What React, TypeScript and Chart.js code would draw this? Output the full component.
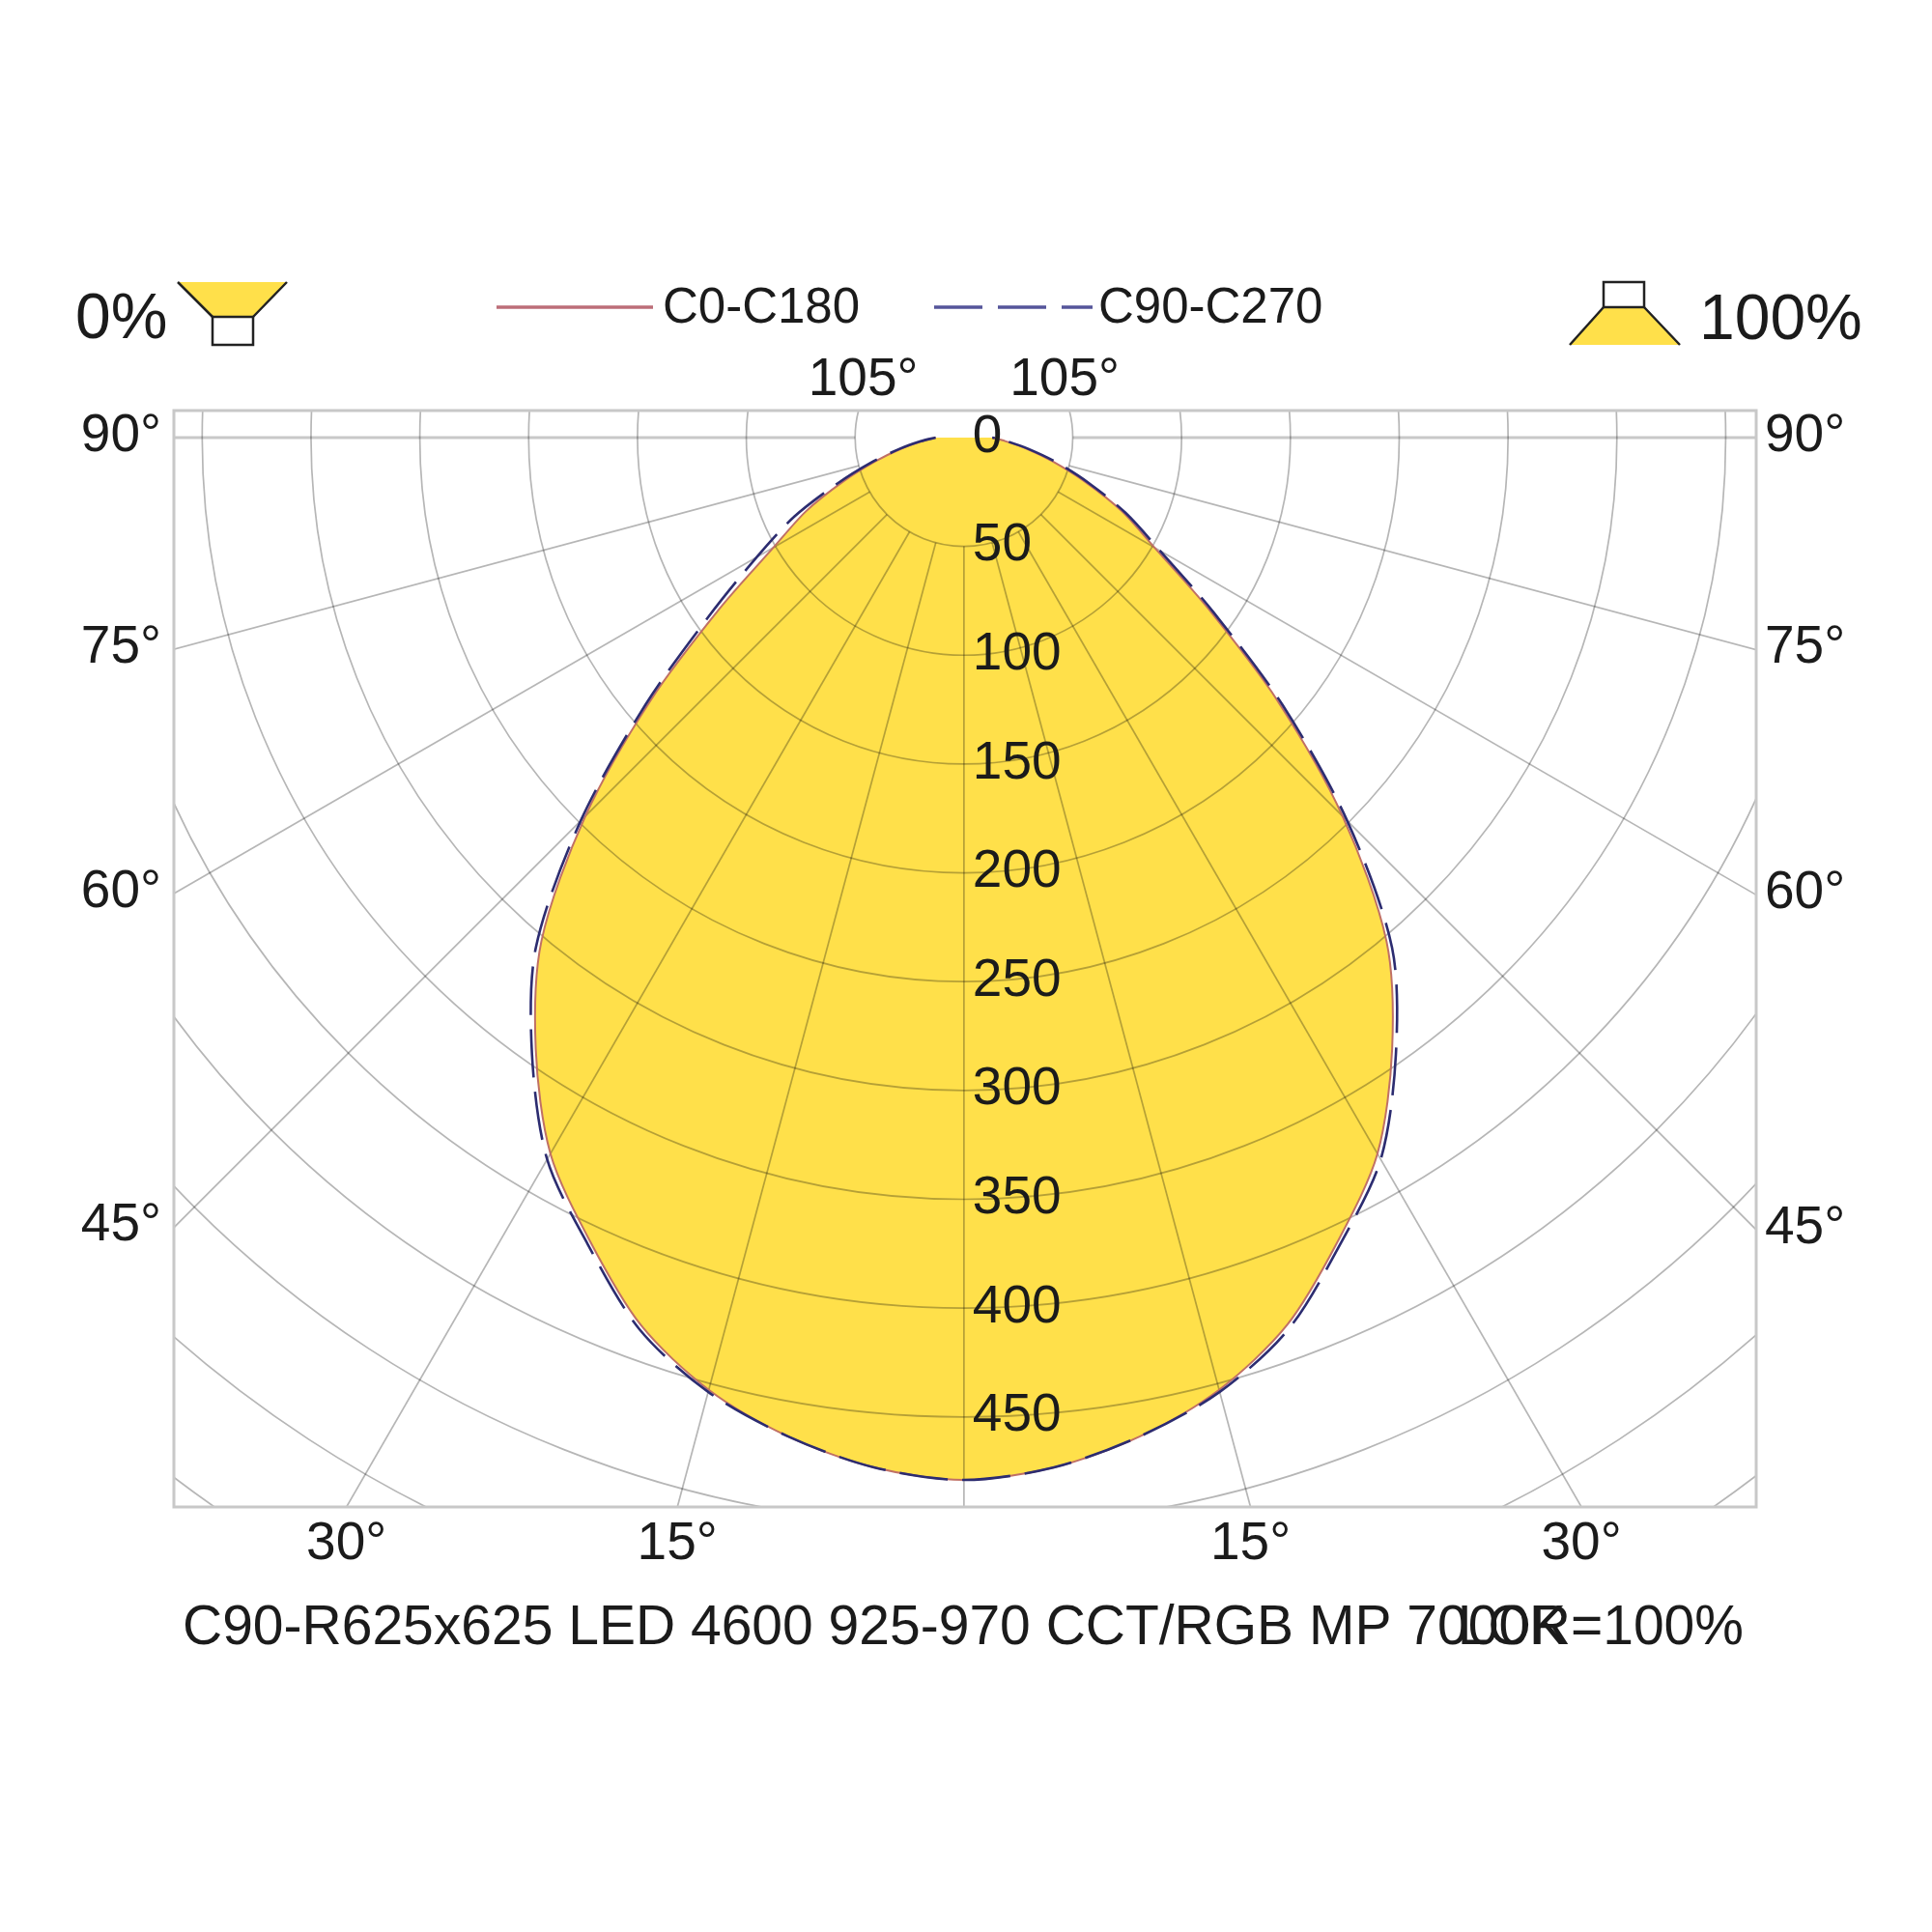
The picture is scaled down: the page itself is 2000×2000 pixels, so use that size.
import React, { useEffect, useRef } from "react";
import { Chart, registerables } from "chart.js";

Chart.register(...registerables);

// ---- data (gamma angles from nadir, degrees) ----
const ANGLES = [0, 5, 10, 15, 20, 25, 30, 35, 40, 45, 50, 55, 60, 65, 70, 75, 80, 85, 90];
const C0 = [479, 475, 466, 453, 434, 407, 380, 343, 302, 246, 188, 137, 101, 80, 59, 42, 29, 19, 13];
const C180 = [479, 475, 466, 453, 434, 407, 380, 343, 302, 246, 188, 137, 101, 80, 59, 42, 29, 19, 13];
const C90 = [479, 475, 466, 454, 436, 409, 383, 346, 306, 249, 191, 140, 104, 82, 61, 44, 30, 20, 13];
const C270 = [479, 475, 466, 454, 436, 409, 383, 346, 306, 249, 191, 143, 110, 86, 62, 44, 30, 20, 13];

const RING_LABELS = [0, 50, 100, 150, 200, 250, 300, 350, 400, 450];
const GRID_RINGS = [50, 100, 150, 200, 250, 300, 350, 400, 450, 500, 550, 600, 650, 700];
const SPOKES = [-105, -90, -75, -60, -45, -30, -15, 0, 15, 30, 45, 60, 75, 90, 105];
const SIDE_ANGLE_LABELS = [90, 75, 60, 45];
const BOTTOM_ANGLE_LABELS = [30, 15];
const TOP_ANGLE_LABEL = 105;
const SERIES_NAMES = ["C0-C180", "C90-C270"];
const TITLE = "C90-R625x625 LED 4600 925-970 CCT/RGB MP 7000K";
const LOR_TEXT = "LOR=100%";
const DOWN_TEXT = "0%";
const UP_TEXT = "100%";

const X_MIN = -363;
const X_MAX = 364;
const Y_MIN = -491.4;
const Y_MAX = 12.4;

const FILL_COLOR = "#FFE04A";
const RED = "#C07065";
const BLUE = "#2C2C70";
const FONT = '"Liberation Sans", Arial, Helvetica, sans-serif';
const TENSION = 0.3;

function polygon(left: number[], right: number[]) {
  const pts: { x: number; y: number }[] = [];
  for (let i = ANGLES.length - 1; i >= 1; i--) {
    const a = (ANGLES[i] * Math.PI) / 180;
    pts.push({ x: -left[i] * Math.sin(a), y: -left[i] * Math.cos(a) });
  }
  pts.push({ x: 0, y: -(left[0] + right[0]) / 2 });
  for (let i = 1; i < ANGLES.length; i++) {
    const a = (ANGLES[i] * Math.PI) / 180;
    pts.push({ x: right[i] * Math.sin(a), y: -right[i] * Math.cos(a) });
  }
  return pts;
}

function text(
  ctx: CanvasRenderingContext2D,
  s: string,
  x: number,
  yc: number,
  size: number,
  align: CanvasTextAlign
) {
  ctx.font = `${size}px ${FONT}`;
  ctx.textAlign = align;
  ctx.textBaseline = "alphabetic";
  ctx.fillStyle = "#1b1b1b";
  ctx.fillText(s, x, yc + 0.358 * size);
}

const polarPlugin = {
  id: "polarGrid",
  afterDatasetDraw(chart: any, args: any) {
    if (args.index !== 2) return;
    const ctx: CanvasRenderingContext2D = chart.ctx;
    const xs = chart.scales.x;
    const ys = chart.scales.y;
    const area = chart.chartArea;
    const cx = xs.getPixelForValue(0);
    const cy = ys.getPixelForValue(0);
    const k = xs.getPixelForValue(1) - cx;
    ctx.save();
    ctx.beginPath();
    ctx.rect(area.left, area.top, area.right - area.left, area.bottom - area.top);
    ctx.clip();
    ctx.globalCompositeOperation = "multiply";
    ctx.lineWidth = 1.7;
    ctx.strokeStyle = "rgb(182,182,182)";
    for (const r of GRID_RINGS) {
      ctx.beginPath();
      ctx.arc(cx, cy, r * k, 0, Math.PI * 2);
      ctx.stroke();
    }
    for (const s of SPOKES) {
      const a = (s * Math.PI) / 180;
      const r0 = GRID_RINGS[0];
      const r1 = 900;
      ctx.beginPath();
      ctx.moveTo(xs.getPixelForValue(r0 * Math.sin(a)), ys.getPixelForValue(-r0 * Math.cos(a)));
      ctx.lineTo(xs.getPixelForValue(r1 * Math.sin(a)), ys.getPixelForValue(-r1 * Math.cos(a)));
      if (Math.abs(s) === 90) {
        ctx.save();
        ctx.lineWidth = 3;
        ctx.strokeStyle = "#C8C8C8";
        ctx.stroke();
        ctx.restore();
      } else {
        ctx.stroke();
      }
    }
    ctx.restore();
    ctx.save();
    ctx.lineWidth = 3;
    ctx.strokeStyle = "#C8C8C8";
    ctx.strokeRect(area.left, area.top, area.right - area.left, area.bottom - area.top);
    ctx.restore();
  },
  afterDraw(chart: any) {
    const ctx: CanvasRenderingContext2D = chart.ctx;
    const xs = chart.scales.x;
    const ys = chart.scales.y;
    const area = chart.chartArea;
    const cx = xs.getPixelForValue(0);
    ctx.save();
    // ring values
    for (const v of RING_LABELS) {
      text(ctx, String(v), cx + 9, ys.getPixelForValue(-v) - 5, 55, "left");
    }
    // side angle labels
    for (const g of SIDE_ANGLE_LABELS) {
      const a = (g * Math.PI) / 180;
      const tL = -X_MIN / Math.sin(a);
      const yL = ys.getPixelForValue(-tL * Math.cos(a));
      text(ctx, `${g}°`, area.left - 13, yL - 6, 55, "right");
      const tR = X_MAX / Math.sin(a);
      const yR = ys.getPixelForValue(-tR * Math.cos(a));
      text(ctx, `${g}°`, area.right + 9, yR - 6, 55, "left");
    }
    // bottom angle labels
    for (const g of BOTTOM_ANGLE_LABELS) {
      const a = (g * Math.PI) / 180;
      const t = -Y_MIN / Math.cos(a);
      text(ctx, `${g}°`, xs.getPixelForValue(-t * Math.sin(a)), area.bottom + 34, 55, "center");
      text(ctx, `${g}°`, xs.getPixelForValue(t * Math.sin(a)), area.bottom + 34, 55, "center");
    }
    // top angle labels
    {
      const a = (TOP_ANGLE_LABEL * Math.PI) / 180;
      const t = Y_MAX / -Math.cos(a);
      text(ctx, `${TOP_ANGLE_LABEL}°`, xs.getPixelForValue(-t * Math.sin(a)), area.top - 36, 55, "center");
      text(ctx, `${TOP_ANGLE_LABEL}°`, xs.getPixelForValue(t * Math.sin(a)), area.top - 36, 55, "center");
    }
    // title
    text(ctx, TITLE, 189, 1682, 57, "left");
    text(ctx, LOR_TEXT, 1805, 1682, 57, "right");

    // legend: 0% icon
    text(ctx, DOWN_TEXT, 78, 326, 66, "left");
    ctx.lineWidth = 2.5;
    ctx.strokeStyle = "#222";
    ctx.fillStyle = FILL_COLOR;
    ctx.beginPath();
    ctx.moveTo(184, 292);
    ctx.lineTo(297, 292);
    ctx.lineTo(262, 328);
    ctx.lineTo(220, 328);
    ctx.closePath();
    ctx.fill();
    ctx.beginPath();
    ctx.moveTo(184, 292);
    ctx.lineTo(220, 328);
    ctx.moveTo(297, 292);
    ctx.lineTo(262, 328);
    ctx.stroke();
    ctx.fillStyle = "#fff";
    ctx.fillRect(220, 328, 42, 29);
    ctx.strokeRect(220, 328, 42, 29);

    // legend: 100% icon
    ctx.fillStyle = FILL_COLOR;
    ctx.beginPath();
    ctx.moveTo(1660, 318);
    ctx.lineTo(1702, 318);
    ctx.lineTo(1739, 357);
    ctx.lineTo(1625, 357);
    ctx.closePath();
    ctx.fill();
    ctx.beginPath();
    ctx.moveTo(1660, 318);
    ctx.lineTo(1625, 357);
    ctx.moveTo(1702, 318);
    ctx.lineTo(1739, 357);
    ctx.stroke();
    ctx.fillStyle = "#fff";
    ctx.fillRect(1660, 292, 42, 26);
    ctx.strokeRect(1660, 292, 42, 26);
    text(ctx, UP_TEXT, 1759, 327, 66, "left");

    // series legend
    ctx.lineWidth = 3.5;
    ctx.strokeStyle = "#BC6E78";
    ctx.setLineDash([]);
    ctx.beginPath();
    ctx.moveTo(514, 318);
    ctx.lineTo(676, 318);
    ctx.stroke();
    text(ctx, SERIES_NAMES[0], 686, 316, 51, "left");
    ctx.strokeStyle = "#55559A";
    ctx.setLineDash([50, 16]);
    ctx.beginPath();
    ctx.moveTo(967, 318);
    ctx.lineTo(1131, 318);
    ctx.stroke();
    ctx.setLineDash([]);
    text(ctx, SERIES_NAMES[1], 1137, 316, 51, "left");
    ctx.restore();
  },
};

export default function App() {
  const ref = useRef<HTMLCanvasElement | null>(null);
  useEffect(() => {
    if (!ref.current) return;
    const chart = new Chart(ref.current, {
      type: "scatter",
      data: {
        datasets: [
          {
            label: SERIES_NAMES[0],
            data: polygon(C180, C0),
            showLine: true,
            borderColor: RED,
            borderWidth: 2,
            pointRadius: 0,
            fill: false,
            tension: TENSION,
            order: 2,
          },
          {
            label: SERIES_NAMES[1],
            data: polygon(C270, C90),
            showLine: true,
            borderColor: BLUE,
            borderWidth: 2.6,
            borderDash: [50, 15],
            pointRadius: 0,
            fill: false,
            tension: TENSION,
            order: 1,
          },
          {
            label: "fill",
            data: polygon(C180, C0),
            showLine: true,
            borderWidth: 0,
            borderColor: "rgba(0,0,0,0)",
            backgroundColor: FILL_COLOR,
            pointRadius: 0,
            fill: "shape",
            tension: TENSION,
            order: 3,
          },
        ],
      },
      options: {
        animation: false,
        responsive: false,
        devicePixelRatio: 1,
        layout: { padding: { left: 180, right: 182, top: 425, bottom: 440 } },
        plugins: { legend: { display: false }, tooltip: { enabled: false }, title: { display: false } },
        scales: {
          x: { type: "linear", display: false, min: X_MIN, max: X_MAX },
          y: { type: "linear", display: false, min: Y_MIN, max: Y_MAX },
        },
      } as any,
      plugins: [polarPlugin as any],
    });
    return () => chart.destroy();
  }, []);
  return (
    <div style={{ position: "absolute", left: 0, top: 0, width: 2000, height: 2000, background: "#fff" }}>
      <canvas ref={ref} width={2000} height={2000} style={{ width: 2000, height: 2000, display: "block" }} />
    </div>
  );
}
